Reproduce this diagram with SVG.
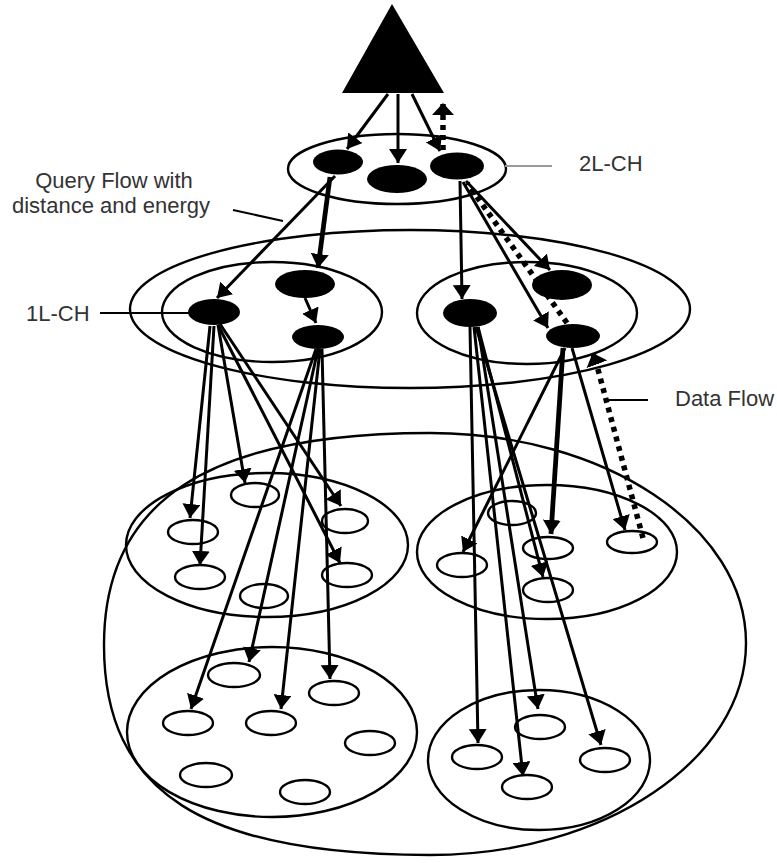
<svg xmlns="http://www.w3.org/2000/svg" width="777" height="863" viewBox="0 0 777 863">
  <style>
    .ring { fill: none; stroke: #000; stroke-width: 2.4; }
    .cell { fill: none; stroke: #000; stroke-width: 2.4; }
    .ch { fill: #000; stroke: none; }
    .flow { fill: none; stroke: #000; stroke-width: 3; marker-end: url(#ah); }
    .flow.thick { stroke-width: 4.8; }
    .data { fill: none; stroke: #000; stroke-width: 5.5; stroke-dasharray: 5 5; }
    .lead { fill: none; stroke: #000; stroke-width: 2; }
    .lead.grey { stroke: #9a9a9a; }
    .lbl { font-family: "Liberation Sans", Arial, sans-serif; font-size: 22px; fill: #333; }
  </style>
  <defs>
    <marker id="ah" markerUnits="userSpaceOnUse" viewBox="0 0 14 18" markerWidth="14" markerHeight="18" refX="14" refY="9" orient="auto">
      <path d="M0,0 L14,9 L0,18 z" fill="#000"/>
    </marker>
    <marker id="ahData" markerUnits="userSpaceOnUse" viewBox="0 0 12 22" markerWidth="12" markerHeight="22" refX="11" refY="11" orient="auto">
      <path d="M0,0 L12,11 L0,22 z" fill="#000"/>
    </marker>
  </defs>

  <!-- regions -->
  <g id="region-field">
    <path class="ring" d="M430,433 C605,433 746,527 746,643 C746,759 605,855 430,855 C202,855 104,792 104,645 C104,501 208,433 430,433 Z"/>
  </g>
  <g id="region-1l">
    <ellipse class="ring" cx="410" cy="309" rx="280" ry="79"/>
    <ellipse class="ring" cx="272" cy="312" rx="110" ry="50"/>
    <ellipse class="ring" cx="527" cy="313" rx="110" ry="51"/>
  </g>
  <g id="region-2l">
    <ellipse class="ring" cx="397" cy="169" rx="109" ry="35"/>
  </g>
  <g id="cluster-a">
    <ellipse class="ring" cx="267" cy="545" rx="141" ry="72"/>
    <ellipse class="cell" cx="255" cy="495" rx="24" ry="12"/>
    <ellipse class="cell" cx="193" cy="532" rx="25" ry="12"/>
    <ellipse class="cell" cx="200" cy="577" rx="25" ry="12"/>
    <ellipse class="cell" cx="345" cy="521" rx="23" ry="12"/>
    <ellipse class="cell" cx="347" cy="575" rx="25" ry="12"/>
    <ellipse class="cell" cx="264" cy="596" rx="24" ry="12"/>
  </g>
  <g id="cluster-b">
    <ellipse class="ring" cx="547" cy="552" rx="130" ry="67"/>
    <ellipse class="cell" cx="512" cy="513" rx="24" ry="12"/>
    <ellipse class="cell" cx="462" cy="565" rx="25" ry="12"/>
    <ellipse class="cell" cx="548" cy="548" rx="25" ry="11"/>
    <ellipse class="cell" cx="548" cy="590" rx="25" ry="12"/>
    <ellipse class="cell" cx="632" cy="542" rx="25" ry="11"/>
  </g>
  <g id="cluster-c">
    <ellipse class="ring" cx="272" cy="732" rx="145" ry="85"/>
    <ellipse class="cell" cx="234" cy="675" rx="26" ry="12"/>
    <ellipse class="cell" cx="188" cy="723" rx="25" ry="12"/>
    <ellipse class="cell" cx="271" cy="723" rx="25" ry="12"/>
    <ellipse class="cell" cx="334" cy="693" rx="25" ry="12"/>
    <ellipse class="cell" cx="370" cy="743" rx="25" ry="12"/>
    <ellipse class="cell" cx="206" cy="775" rx="26" ry="12"/>
    <ellipse class="cell" cx="305" cy="792" rx="25" ry="12"/>
  </g>
  <g id="cluster-d">
    <ellipse class="ring" cx="539" cy="760" rx="111" ry="70"/>
    <ellipse class="cell" cx="540" cy="727" rx="25" ry="12"/>
    <ellipse class="cell" cx="477" cy="757" rx="25" ry="12"/>
    <ellipse class="cell" cx="605" cy="760" rx="25" ry="12"/>
    <ellipse class="cell" cx="527" cy="787" rx="25" ry="12"/>
  </g>

  <!-- connectors -->
  <g id="connectors">
    <!-- sink to 2L cluster heads -->
    <line class="flow" x1="388" y1="94" x2="347" y2="149"/>
    <line class="flow" x1="398" y1="94" x2="398" y2="163"/>
    <line class="flow" x1="412" y1="94" x2="440" y2="151"/>
    <!-- 2L to 1L -->
    <line class="flow" x1="335" y1="176" x2="217" y2="298"/>
    <line class="flow thick" x1="330" y1="177" x2="318" y2="268"/>
    <line class="flow" x1="305" y1="298" x2="316" y2="323"/>
    <line class="flow" x1="460" y1="181" x2="462" y2="299"/>
    <line class="flow" x1="466" y1="181" x2="550" y2="270"/>
    <line class="flow" x1="463" y1="182" x2="548" y2="328"/>
    <!-- 1L-CH to cluster A -->
    <line class="flow" x1="210" y1="326" x2="190" y2="518"/>
    <line class="flow" x1="214" y1="326" x2="200" y2="565"/>
    <line class="flow" x1="218" y1="325" x2="245" y2="483"/>
    <line class="flow" x1="220" y1="324" x2="341" y2="506"/>
    <line class="flow" x1="218" y1="325" x2="340" y2="563"/>
    <!-- lower left 1L head to cluster C -->
    <line class="flow" x1="316" y1="349" x2="191" y2="709"/>
    <line class="flow" x1="318" y1="349" x2="249" y2="662"/>
    <line class="flow" x1="320" y1="349" x2="281" y2="709"/>
    <line class="flow" x1="322" y1="349" x2="330" y2="679"/>
    <!-- right 1L heads to clusters B and D -->
    <line class="flow" x1="470" y1="327" x2="478" y2="743"/>
    <line class="flow" x1="474" y1="327" x2="523" y2="776"/>
    <line class="flow" x1="478" y1="327" x2="538" y2="709"/>
    <line class="flow" x1="476" y1="327" x2="601" y2="745"/>
    <line class="flow" x1="478" y1="327" x2="543" y2="577"/>
    <line class="flow" x1="565" y1="348" x2="463" y2="552"/>
    <line class="flow thick" x1="563" y1="348" x2="551" y2="534"/>
    <line class="flow" x1="572" y1="348" x2="625" y2="530"/>
    <!-- data flow back to the sink -->
    <line class="data" x1="643" y1="538" x2="596" y2="362"/>
    <line class="data" x1="596" y1="362" x2="593" y2="354" style="stroke-dasharray:none" marker-end="url(#ahData)"/>
    <line class="data" x1="567" y1="323" x2="467" y2="183"/>
    <line class="data" x1="443" y1="150" x2="443" y2="108"/>
    <line class="data" x1="443" y1="108" x2="443" y2="104" style="stroke-dasharray:none" marker-end="url(#ahData)"/>
    <!-- label leaders -->
    <line class="lead" x1="233" y1="210" x2="283" y2="221"/>
    <line class="lead grey" x1="505" y1="166" x2="552" y2="166"/>
    <line class="lead" x1="100" y1="313" x2="189" y2="313"/>
    <line class="lead" x1="607" y1="400" x2="648" y2="400"/>
  </g>

  <!-- sink -->
  <g id="sink">
    <polygon class="ch" points="392,4 342,93 444,93"/>
  </g>

  <!-- 2L cluster heads -->
  <g id="ch2-left"><ellipse class="ch" cx="338" cy="162" rx="25" ry="12.5"/></g>
  <g id="ch2-mid"><ellipse class="ch" cx="397" cy="179" rx="30" ry="14"/></g>
  <g id="ch2-right"><ellipse class="ch" cx="457" cy="166" rx="27" ry="13.5"/></g>

  <!-- 1L cluster heads -->
  <g id="ch1-a"><ellipse class="ch" cx="214" cy="312" rx="26" ry="13"/></g>
  <g id="ch1-b"><ellipse class="ch" cx="305" cy="284" rx="30" ry="14"/></g>
  <g id="ch1-c"><ellipse class="ch" cx="318" cy="337" rx="26" ry="12"/></g>
  <g id="ch1-d"><ellipse class="ch" cx="470" cy="313" rx="27" ry="14"/></g>
  <g id="ch1-e"><ellipse class="ch" cx="562" cy="285" rx="30" ry="15"/></g>
  <g id="ch1-f"><ellipse class="ch" cx="573" cy="336" rx="27" ry="12"/></g>

  <!-- labels -->
  <g id="labels">
    <text class="lbl" x="114" y="188" text-anchor="middle">Query Flow with</text>
    <text class="lbl" x="111" y="213" text-anchor="middle">distance and energy</text>
    <text class="lbl" x="579" y="171">2L-CH</text>
    <text class="lbl" x="26" y="321">1L-CH</text>
    <text class="lbl" x="675" y="406">Data Flow</text>
  </g>
</svg>
